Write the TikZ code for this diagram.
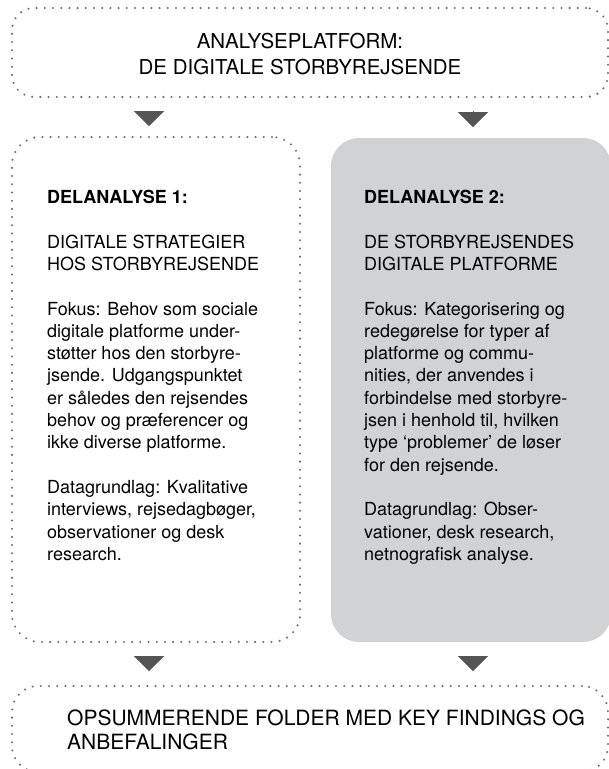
\documentclass[tikz,border=0pt]{standalone}
\usepackage{fontspec}
\setmainfont{TeX Gyre Heros}
\usetikzlibrary{arrows.meta}
\definecolor{dotgray}{RGB}{110,110,110}
\definecolor{boxgray}{RGB}{209,210,212}
\definecolor{trigray}{RGB}{85,85,85}
\tikzset{
 dotbox/.style={draw=dotgray, line width=2.3pt, dash pattern=on 0pt off 8.2pt, line cap=round, rounded corners=#1, inner sep=0, outer sep=0, anchor=north west},
 graybox/.style={fill=boxgray, rounded corners=28pt, inner sep=0, outer sep=0, anchor=north west},
 tri/.style={draw=trigray, -{Triangle[width=30pt,length=15pt]}, shorten <=14pt},
 headtext/.style={font=\fontsize{20.5}{26.5}\selectfont, align=center, inner sep=0},
 bodytext/.style={font=\fontsize{18}{22.3}\selectfont, align=left, anchor=north west, inner sep=0}
}

\begin{document}
\begin{tikzpicture}[x=1pt, y=-1pt]
\useasboundingbox (0,0) rectangle (609,769);

\node[dotbox=22pt, minimum width=596pt, minimum height=89pt] (platform) at (12,8) {};
\node[dotbox=28pt, minimum width=288pt, minimum height=505pt] (delA) at (12,137) {};
\node[graybox, minimum width=280pt, minimum height=504pt] (delB) at (331,138) {};
\node[dotbox=26pt, minimum width=596pt, minimum height=86pt] (folder) at (12,686) {};

\node[headtext, anchor=north] (platformtxt) at (300,32.5) {ANALYSEPLATFORM:\\DE DIGITALE STORBYREJSENDE};

\node[bodytext] (delAtxt) at (47,190) {\textbf{DELANALYSE 1:}\\[\baselineskip]
 DIGITALE STRATEGIER\\HOS STORBYREJSENDE\\[\baselineskip]
 Fokus: Behov som sociale\\digitale platforme under-\\støtter hos den storbyre-\\jsende. Udgangspunktet\\er således den rejsendes\\behov og præferencer og\\ikke diverse platforme.\\[\baselineskip]
 Datagrundlag: Kvalitative\\interviews, rejsedagbøger,\\observationer og desk\\research.};

\node[bodytext] (delBtxt) at (364,190) {\textbf{DELANALYSE 2:}\\[\baselineskip]
 DE STORBYREJSENDES\\DIGITALE PLATFORME\\[\baselineskip]
 Fokus: Kategorisering og\\redegørelse for typer af\\platforme og commu-\\nities, der anvendes i\\forbindelse med storbyre-\\jsen i henhold til, hvilken\\type ‘problemer’ de løser\\for den rejsende.\\[\baselineskip]
 Datagrundlag: Obser-\\vationer, desk research,\\netnografisk analyse.};

\node[headtext, font=\fontsize{21}{23.5}\selectfont, align=left, anchor=north west] (foldertxt) at (67,710) {OPSUMMERENDE FOLDER MED KEY FINDINGS OG\\ANBEFALINGER};

\foreach \b/\s in {delA/-7, delB/2} {
 \draw[tri, shorten >=11pt] ([xshift=\s pt]\b.north |- platform.south) -- ([xshift=\s pt]\b.north);
 \draw[tri, shorten >=15pt] ([xshift=\s pt]\b.south) -- ([xshift=\s pt]\b.south |- folder.north);
}
\end{tikzpicture}
\end{document}
